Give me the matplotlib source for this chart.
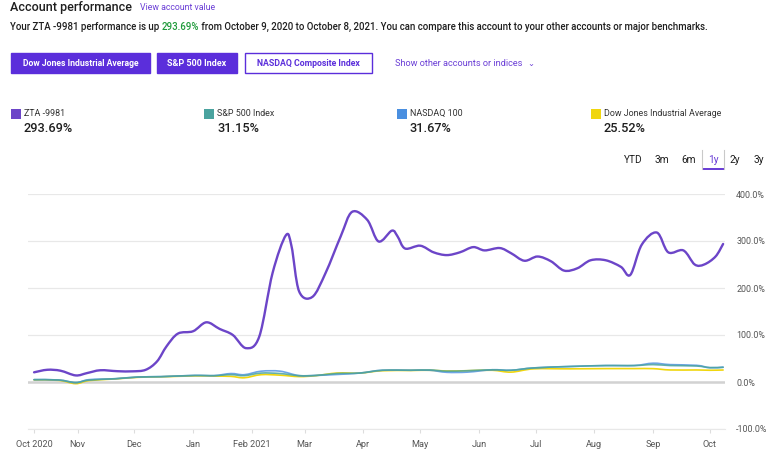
import matplotlib
matplotlib.use("Agg")
import matplotlib.pyplot as plt
import matplotlib.dates as mdates
from matplotlib.patches import FancyBboxPatch, Rectangle, PathPatch
from matplotlib.path import Path
import numpy as np
import pandas as pd

plt.rcParams['font.family'] = ['Roboto', 'DejaVu Sans']

# data: days after start date, percent return
start = pd.Timestamp("2020-10-09")

zta_days = [0, 7, 14, 22, 28, 35, 44, 52, 59, 65, 70, 76, 84, 91, 98, 105, 112, 119,
            126, 133, 136, 140, 147, 154, 162, 168, 176, 182, 189, 192, 196, 204, 211,
            218, 225, 232, 238, 246, 252, 259, 266, 273, 280, 287, 294, 302, 310, 315,
            321, 329, 335, 343, 349, 354, 360, 364]
zta_vals = [20.6, 26, 24, 14, 19, 25, 23, 22.7, 26, 44, 76, 103, 108, 127, 113, 100, 72, 97,
            232, 312, 289, 193, 181, 232, 310, 362, 345, 299, 322, 310, 284, 290, 276,
            270, 276, 287, 280, 285, 274, 258, 267, 257, 237, 242, 259, 259, 245, 228,
            292, 318, 276, 280, 250, 250, 267, 293.69]

bench_days = [0, 13, 22, 29, 43, 55, 67, 85, 95, 104, 111, 120, 130, 140, 149, 160, 172,
              184, 199, 209, 218, 229, 242, 252, 264, 283, 302, 317, 327, 336, 350, 357, 364]
sp500_vals = [5, 4.3, -1, 4, 7, 10.6, 11.4, 14, 13.5, 15.6, 13.5, 19, 18, 13.5, 14, 18, 19,
              25, 25, 25.6, 23, 24, 26, 25, 30, 33, 35, 35, 37, 35, 34, 30.5, 31.15]
nasdaq_vals = [5, 4.3, -1.5, 5, 7, 10.6, 11.4, 14, 13.5, 18, 15.5, 23, 23, 13.5, 14, 16, 19,
               25, 25, 25, 20.6, 21, 26, 25, 30, 33, 35, 35, 40, 37, 35.5, 30.5, 31.67]
dow_vals = [4.5, 3.5, -3.5, 3, 6.5, 10, 11, 13, 12.5, 12, 9, 15.6, 14.5, 11.5, 13.5, 19, 19,
            24, 24.5, 25, 23.4, 24, 25, 21, 28, 28, 28.5, 28.5, 28.4, 25.6, 25.6, 25, 25.52]

legend_names = ["ZTA -9981", "S&P 500 Index", "NASDAQ 100", "Dow Jones Industrial Average"]
legend_values = ["293.69%", "31.15%", "31.67%", "25.52%"]
y_ticks = [-100, 0, 100, 200, 300, 400]
x_tick_dates = ["2020-10-09", "2020-11-01", "2020-12-01", "2021-01-01", "2021-02-01",
                "2021-03-01", "2021-04-01", "2021-05-01", "2021-06-01", "2021-07-01",
                "2021-08-01", "2021-09-01", "2021-10-01"]
x_tick_labels = ["Oct 2020", "Nov", "Dec", "Jan", "Feb 2021", "Mar", "Apr", "May", "Jun",
                 "Jul", "Aug", "Sep", "Oct"]
periods = ["YTD", "3m", "6m", "1y", "2y", "3y"]

PURPLE = "#6c45c8"
BTN = "#5b2edb"
LINK = "#6b3fd6"
TEAL = "#4aa39f"
BLUE = "#4a8fe0"
YELLOW = "#f0d60e"
DARK = "#1f1f1f"

W, H = 779, 450
fig = plt.figure(figsize=(W / 100, H / 100), dpi=100)
renderer = fig.canvas.get_renderer()


def px(x, y):
    return x / W, 1 - y / H


def put(x, y, s, width=None, **kw):
    t = fig.text(*px(x, y), s, **kw)
    if width:
        # shrink/grow so the text spans the same pixels as in the reference
        w = t.get_window_extent(renderer).width
        t.set_fontsize(t.get_fontsize() * width / w)
    return t


# header
put(10, 8, "Account performance", width=121, fontsize=10, color=DARK, va="center",
    fontweight="medium")
put(140, 8, "View account value", width=76, fontsize=7, color=LINK, va="center")

pieces = [("Your ZTA -9981 performance is up ", DARK), ("293.69%", "#1e9a3a"),
          (" from October 9, 2020 to October 8, 2021. You can compare this account to your other accounts or major benchmarks.", DARK)]
line_size = 6.9
x = 10
for piece, col in pieces:
    t = put(x, 27, piece, fontsize=line_size, color=col, va="center", fontweight="medium")
    x += t.get_window_extent(renderer).width

# buttons
buttons = [("Dow Jones Industrial Average", 11, 150, 117, True),
           ("S&P 500 Index", 157, 237, 60, True),
           ("NASDAQ Composite Index", 245, 372, 105, False)]
for label, x0, x1, tw, filled in buttons:
    bx, by = px(x0, 73)
    fig.patches.append(FancyBboxPatch((bx, by), (x1 - x0) / W, 20 / H,
                                      boxstyle="square,pad=0", transform=fig.transFigure,
                                      facecolor=BTN if filled else "white",
                                      edgecolor=BTN, linewidth=1))
    put((x0 + x1) / 2, 63.5, label, width=tw, fontsize=7, ha="center", va="center",
        color="white" if filled else BTN, fontweight="bold")
put(395, 64, "Show other accounts or indices", width=128, fontsize=7, color=LINK,
    va="center")
put(527, 63, "\u2304", fontsize=6, color=LINK, va="center", family="DejaVu Sans")

# legend
legend_colors = [PURPLE, TEAL, BLUE, YELLOW]
legend_x = [11, 204, 397, 591]
for name, val, col, lx in zip(legend_names, legend_values, legend_colors, legend_x):
    fig.patches.append(Rectangle(px(lx, 119), 10 / W, 10 / H, transform=fig.transFigure,
                                 facecolor=col, edgecolor="none"))
    put(lx + 13, 113.5, name, fontsize=6.4, color="#333333", va="center")
    put(lx + 13, 128, val, fontsize=9.2, color=DARK, va="center", fontweight="medium")

# period selector
period_x = [633, 662, 689, 713, 735, 759]
for p, pxx in zip(periods, period_x):
    put(pxx, 160, p, fontsize=7.3, ha="center", va="center",
        color=LINK if p == "1y" else DARK)
for bxx in (702, 724):
    fig.add_artist(plt.Line2D([bxx / W, bxx / W], [1 - 150 / H, 1 - 169 / H],
                              transform=fig.transFigure, color="#c9c9c9", lw=0.8))
fig.patches.append(Rectangle(px(702, 170), 22 / W, 2 / H, transform=fig.transFigure,
                             facecolor=LINK, edgecolor="none"))

# chart
ax = fig.add_axes([28 / W, 1 - 429 / H, (725 - 28) / W, 235 / H])


def smooth_line(days, vals, color, lw, z, alpha=1.0):
    # draw a cardinal (Catmull-Rom) curve through the points, like the web chart
    xs = mdates.date2num(start + pd.to_timedelta(days, unit="D"))
    pts = np.column_stack([xs, vals])
    ext = np.vstack([pts[0], pts, pts[-1]])
    verts = [tuple(pts[0])]
    codes = [Path.MOVETO]
    for i in range(1, len(ext) - 2):
        p0, p1, p2, p3 = ext[i - 1], ext[i], ext[i + 1], ext[i + 2]
        c1 = p1 + (p2 - p0) / 6
        c2 = p2 - (p3 - p1) / 6
        verts += [tuple(c1), tuple(c2), tuple(p2)]
        codes += [Path.CURVE4] * 3
    ax.add_patch(PathPatch(Path(verts, codes), facecolor="none", edgecolor=color,
                           lw=lw, zorder=z, alpha=alpha, capstyle="round",
                           joinstyle="round"))


smooth_line(bench_days, dow_vals, YELLOW, 1.2, 3)
smooth_line(bench_days, nasdaq_vals, BLUE, 1.2, 3, alpha=0.8)
smooth_line(bench_days, sp500_vals, TEAL, 1.2, 4, alpha=0.85)
smooth_line(zta_days, zta_vals, PURPLE, 1.7, 5)

ax.set_ylim(-100, 400)
ax.set_xlim(start - pd.Timedelta(days=3.2), start + pd.Timedelta(days=365))
ax.set_yticks(y_ticks)
ax.set_yticklabels([f"{v:.1f}%" for v in y_ticks])
ax.yaxis.tick_right()
ax.tick_params(axis="y", length=0, pad=8, labelsize=6.4, labelcolor="#555555")
ax.set_xticks(pd.to_datetime(x_tick_dates))
ax.set_xticklabels(x_tick_labels)
ax.tick_params(axis="x", length=3, width=0.8, color="#dddddd", labelsize=6.6,
               labelcolor="#555555", pad=5)
ax.grid(axis="y", color="#e8e8e8", lw=0.9)
ax.axhline(0, color="#d2d2d2", lw=1.8, zorder=2)
for s in ax.spines.values():
    s.set_visible(False)
ax.spines["bottom"].set_visible(True)
ax.spines["bottom"].set_color("#e8e8e8")

fig.savefig("out.png", dpi=100)
